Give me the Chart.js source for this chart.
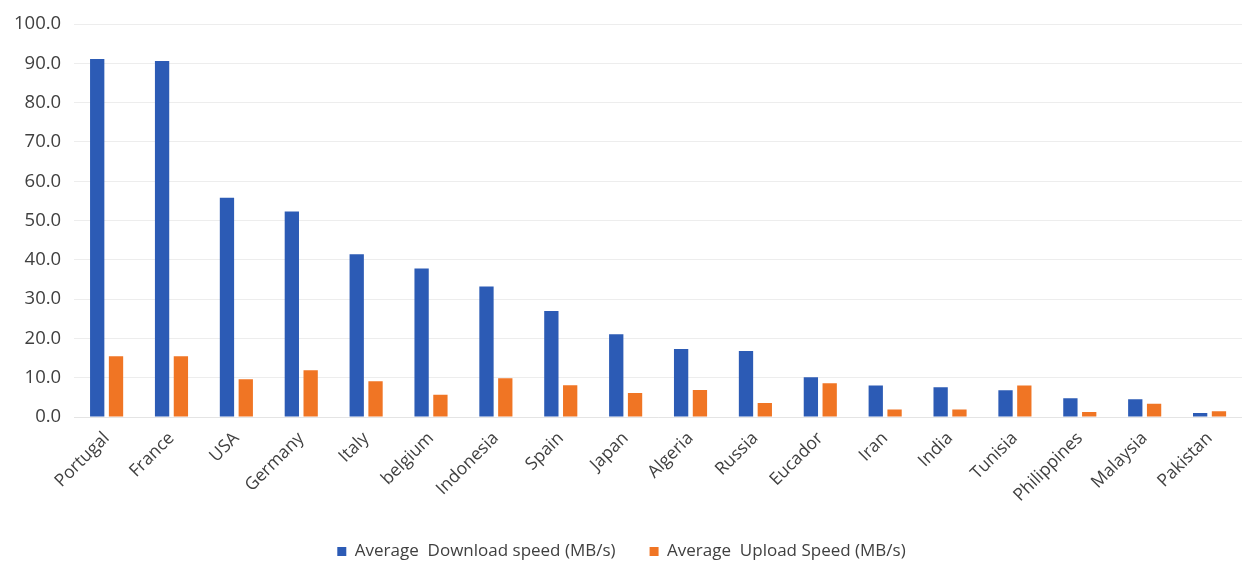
<!DOCTYPE html>
<html>
<head>
<meta charset="utf-8">
<script src="https://cdn.jsdelivr.net/npm/chart.js@4/dist/chart.umd.min.js"></script>
<style>
  html, body { margin: 0; padding: 0; background: #fff; }
  #wrap { width: 1242px; height: 562px; }
</style>
</head>
<body>
<div id="wrap"><canvas id="speedChart" width="1242" height="562"></canvas></div>
<script>
// Data
const countries = ['Portugal', 'France', 'USA', 'Germany', 'Italy', 'belgium', 'Indonesia', 'Spain', 'Japan',
  'Algeria', 'Russia', 'Eucador', 'Iran', 'India', 'Tunisia', 'Philippines', 'Malaysia', 'Pakistan'];
const downloadSpeed = [91.1, 90.6, 55.8, 52.3, 41.4, 37.8, 33.2, 27.0, 21.1, 17.3, 16.8, 10.1, 8.0, 7.6, 6.8, 4.8, 4.5, 1.0];
const uploadSpeed = [15.5, 15.5, 9.6, 11.9, 9.1, 5.7, 9.9, 8.1, 6.1, 6.9, 3.6, 8.6, 1.9, 1.9, 8.0, 1.3, 3.4, 1.5];
const seriesNames = ['Average  Download speed (MB/s)', 'Average  Upload Speed (MB/s)'];

const FONT = "'Open Sans', 'DejaVu Sans', sans-serif";
const TEXT = '#404040';

const ctx = document.getElementById('speedChart').getContext('2d');
new Chart(ctx, {
  type: 'bar',
  data: {
    labels: countries,
    datasets: [
      { label: seriesNames[0], data: downloadSpeed, backgroundColor: '#2C5BB5', categoryPercentage: 0.58, barPercentage: 0.76 },
      { label: seriesNames[1], data: uploadSpeed, backgroundColor: '#F07524', categoryPercentage: 0.58, barPercentage: 0.76 }
    ]
  },
  options: {
    responsive: false,
    animation: false,
    layout: { padding: { top: -1, left: 1, right: 0, bottom: -8 } },
    plugins: {
      tooltip: { enabled: false },
      legend: {
        position: 'bottom',
        labels: {
          font: { family: FONT, size: 17 },
          color: TEXT,
          boxWidth: 9,
          boxHeight: 9,
          padding: 34
        }
      }
    },
    scales: {
      x: {
        grid: { display: false },
        border: { color: '#E4E4E4' },
        ticks: {
          font: { family: FONT, size: 17.5 },
          color: TEXT,
          minRotation: 45,
          maxRotation: 45,
          padding: 3
        }
      },
      y: {
        min: 0,
        max: 100,
        grid: { color: '#EDEDED', drawTicks: false },
        border: { display: false },
        ticks: {
          stepSize: 10,
          font: { family: FONT, size: 18.5 },
          color: TEXT,
          padding: 13,
          callback: v => v.toFixed(1)
        }
      }
    }
  }
});
</script>
</body>
</html>
